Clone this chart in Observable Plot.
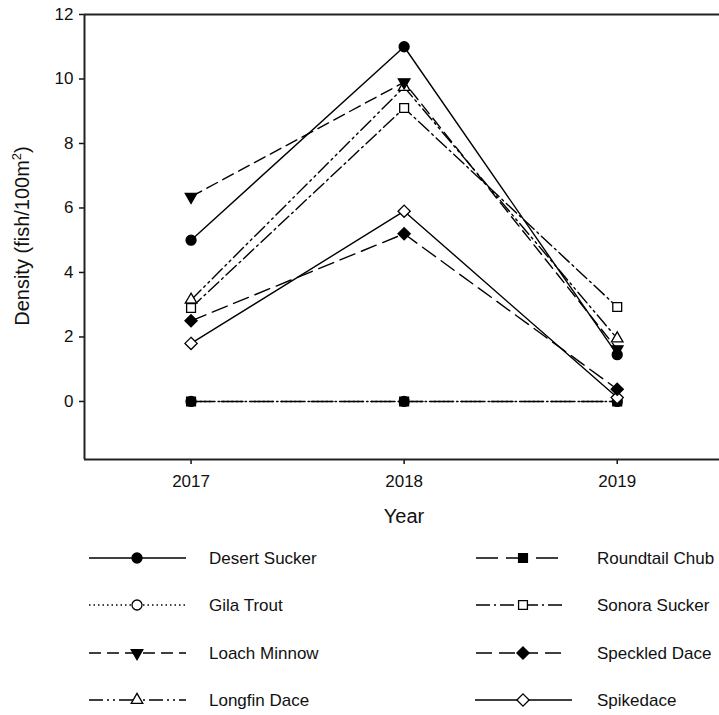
<!DOCTYPE html>
<html><head><meta charset="utf-8">
<script src="https://cdn.jsdelivr.net/npm/d3@7"></script>
<script src="https://cdn.jsdelivr.net/npm/@observablehq/plot@0.6"></script>
<style>
body{margin:0;background:#fff;font-family:"Liberation Sans",Arial,sans-serif;color:#111;}
#chart svg{display:block;}
</style>
</head><body><div id="chart"></div><div id="legend"></div>
<script>
const years = [2017, 2018, 2019];
const species = ["Desert Sucker","Gila Trout","Loach Minnow","Longfin Dace","Roundtail Chub","Sonora Sucker","Speckled Dace","Spikedace"];
const desertSucker = [5.0, 11.0, 1.45];
const gilaTrout = [0, 0, 0];
const loachMinnow = [6.35, 9.9, 1.62];
const longfinDace = [3.15, 9.75, 1.95];
const roundtailChub = [0, 0, 0];
const sonoraSucker = [2.9, 9.1, 2.93];
const speckledDace = [2.5, 5.2, 0.38];
const spikedace = [1.8, 5.9, 0.12];
const yTicks = [0, 2, 4, 6, 8, 10, 12];
const xTicks = [2017, 2018, 2019];

const values = {
  "Desert Sucker": desertSucker, "Gila Trout": gilaTrout, "Loach Minnow": loachMinnow,
  "Longfin Dace": longfinDace, "Roundtail Chub": roundtailChub, "Sonora Sucker": sonoraSucker,
  "Speckled Dace": speckledDace, "Spikedace": spikedace
};
const styles = {
  "Desert Sucker": {dash: null, symbol: "circle", d3sym: d3.symbolCircle, fill: "black", r: 5, rot: 0},
  "Gila Trout": {dash: "1.5,3", symbol: "circle", d3sym: d3.symbolCircle, fill: "white", r: 5, rot: 0},
  "Loach Minnow": {dash: "12,6", symbol: "triangle", d3sym: d3.symbolTriangle, fill: "black", r: 4.3, rot: 180},
  "Longfin Dace": {dash: "14,4,2,4,2,4", symbol: "triangle", d3sym: d3.symbolTriangle, fill: "white", r: 4.3, rot: 0},
  "Roundtail Chub": {dash: "22,8", symbol: "square", d3sym: d3.symbolSquare, fill: "black", r: 5, rot: 0},
  "Sonora Sucker": {dash: "14,4,2,4", symbol: "square", d3sym: d3.symbolSquare, fill: "white", r: 5, rot: 0},
  "Speckled Dace": {dash: "16,7", symbol: "diamond2", d3sym: d3.symbolDiamond2, fill: "black", r: 5.5, rot: 0},
  "Spikedace": {dash: null, symbol: "diamond2", d3sym: d3.symbolDiamond2, fill: "white", r: 5.5, rot: 0}
};

const rows = species.flatMap(s => years.map((yr, i) => ({species: s, year: yr, value: values[s][i]})));
const drawOrder = ["Gila Trout","Roundtail Chub","Spikedace","Speckled Dace","Longfin Dace","Sonora Sucker","Loach Minnow","Desert Sucker"];

const lineMarks = drawOrder.map(s => Plot.line(rows.filter(d => d.species === s), {
  x: "year", y: "value", stroke: "black", strokeWidth: 1.4,
  strokeDasharray: styles[s].dash || undefined
}));
const dotMarks = drawOrder.map(s => Plot.dot(rows.filter(d => d.species === s), {
  x: "year", y: "value", symbol: () => styles[s].symbol, r: styles[s].r,
  fill: styles[s].fill, stroke: "black", strokeWidth: 1.3, rotate: styles[s].rot
}));

const chart = Plot.plot({
  width: 719, height: 535,
  marginLeft: 84, marginRight: 0, marginTop: 14, marginBottom: 76,
  style: {fontFamily: '"Liberation Sans", Arial, sans-serif', fontSize: "17px", color: "#111", background: "white"},
  x: {domain: [2016.5, 2019.48]},
  y: {domain: [-1.8, 12]},
  symbol: {type: "identity"},
  marks: [
    Plot.axisX({ticks: xTicks, tickFormat: d => String(d), tickSize: 5, tickPadding: 10, label: null, strokeWidth: 1.5}),
    Plot.axisY({ticks: yTicks, tickSize: 5, tickPadding: 6, label: null, strokeWidth: 1.5}),
    Plot.ruleX([2016.5], {stroke: "#222", strokeWidth: 2}),
    Plot.ruleY([12], {stroke: "#222", strokeWidth: 2}),
    Plot.ruleY([-1.8], {stroke: "#222", strokeWidth: 2}),
    ...lineMarks,
    ...dotMarks,
    Plot.text(["Year"], {frameAnchor: "bottom", dx: 2, dy: 63, fontSize: 20, fill: "#111"})
  ]
});
chart.querySelectorAll('[aria-label$="tick label"]').forEach(g => {
  g.setAttribute("font-size", 17);
  g.style.fontSize = "17px";
  g.querySelectorAll("text").forEach(t => { t.setAttribute("font-size", 17); t.style.fontSize = "17px"; });
});
const ylab = d3.select(chart).append("text")
  .attr("transform", "translate(29,236) rotate(-90)")
  .attr("text-anchor", "middle").attr("font-size", 20).attr("fill", "#111")
  .attr("font-family", '"Liberation Sans", Arial, sans-serif');
ylab.append("tspan").text("Density (fish/100m");
ylab.append("tspan").attr("font-size", 13).attr("dy", "-0.6em").text("2");
ylab.append("tspan").attr("dy", "0.4em").text(")");
document.getElementById("chart").appendChild(chart);

// Legend
const leg = d3.select("#legend").append("svg").attr("width", 719).attr("height", 180)
  .style("display", "block").style("font-family", '"Liberation Sans", Arial, sans-serif');
const rowY = [23, 70, 118, 165];
const cols = [
  {x0: 89, x1: 186, sx: 137, tx: 209},
  {x0: 476, x1: 566, sx: 523, tx: 597}
];
species.forEach((s, i) => {
  const c = cols[Math.floor(i / 4)];
  const y = rowY[i % 4];
  const st = styles[s];
  const x1 = s === "Spikedace" ? 572 : c.x1;
  const x0 = s === "Spikedace" ? 475 : c.x0;
  leg.append("line").attr("x1", x0).attr("x2", x1).attr("y1", y).attr("y2", y)
    .attr("stroke", "black").attr("stroke-width", 1.4)
    .attr("stroke-dasharray", st.dash || null);
  leg.append("path").attr("d", d3.symbol(st.d3sym, Math.PI * st.r * st.r)())
    .attr("transform", `translate(${c.sx},${y}) rotate(${st.rot})`)
    .attr("fill", st.fill).attr("stroke", "black").attr("stroke-width", 1.3);
  leg.append("text").attr("x", c.tx).attr("y", y).attr("dy", "0.35em")
    .attr("font-size", 17).attr("fill", "#111").text(s);
});
</script>
</body></html>
